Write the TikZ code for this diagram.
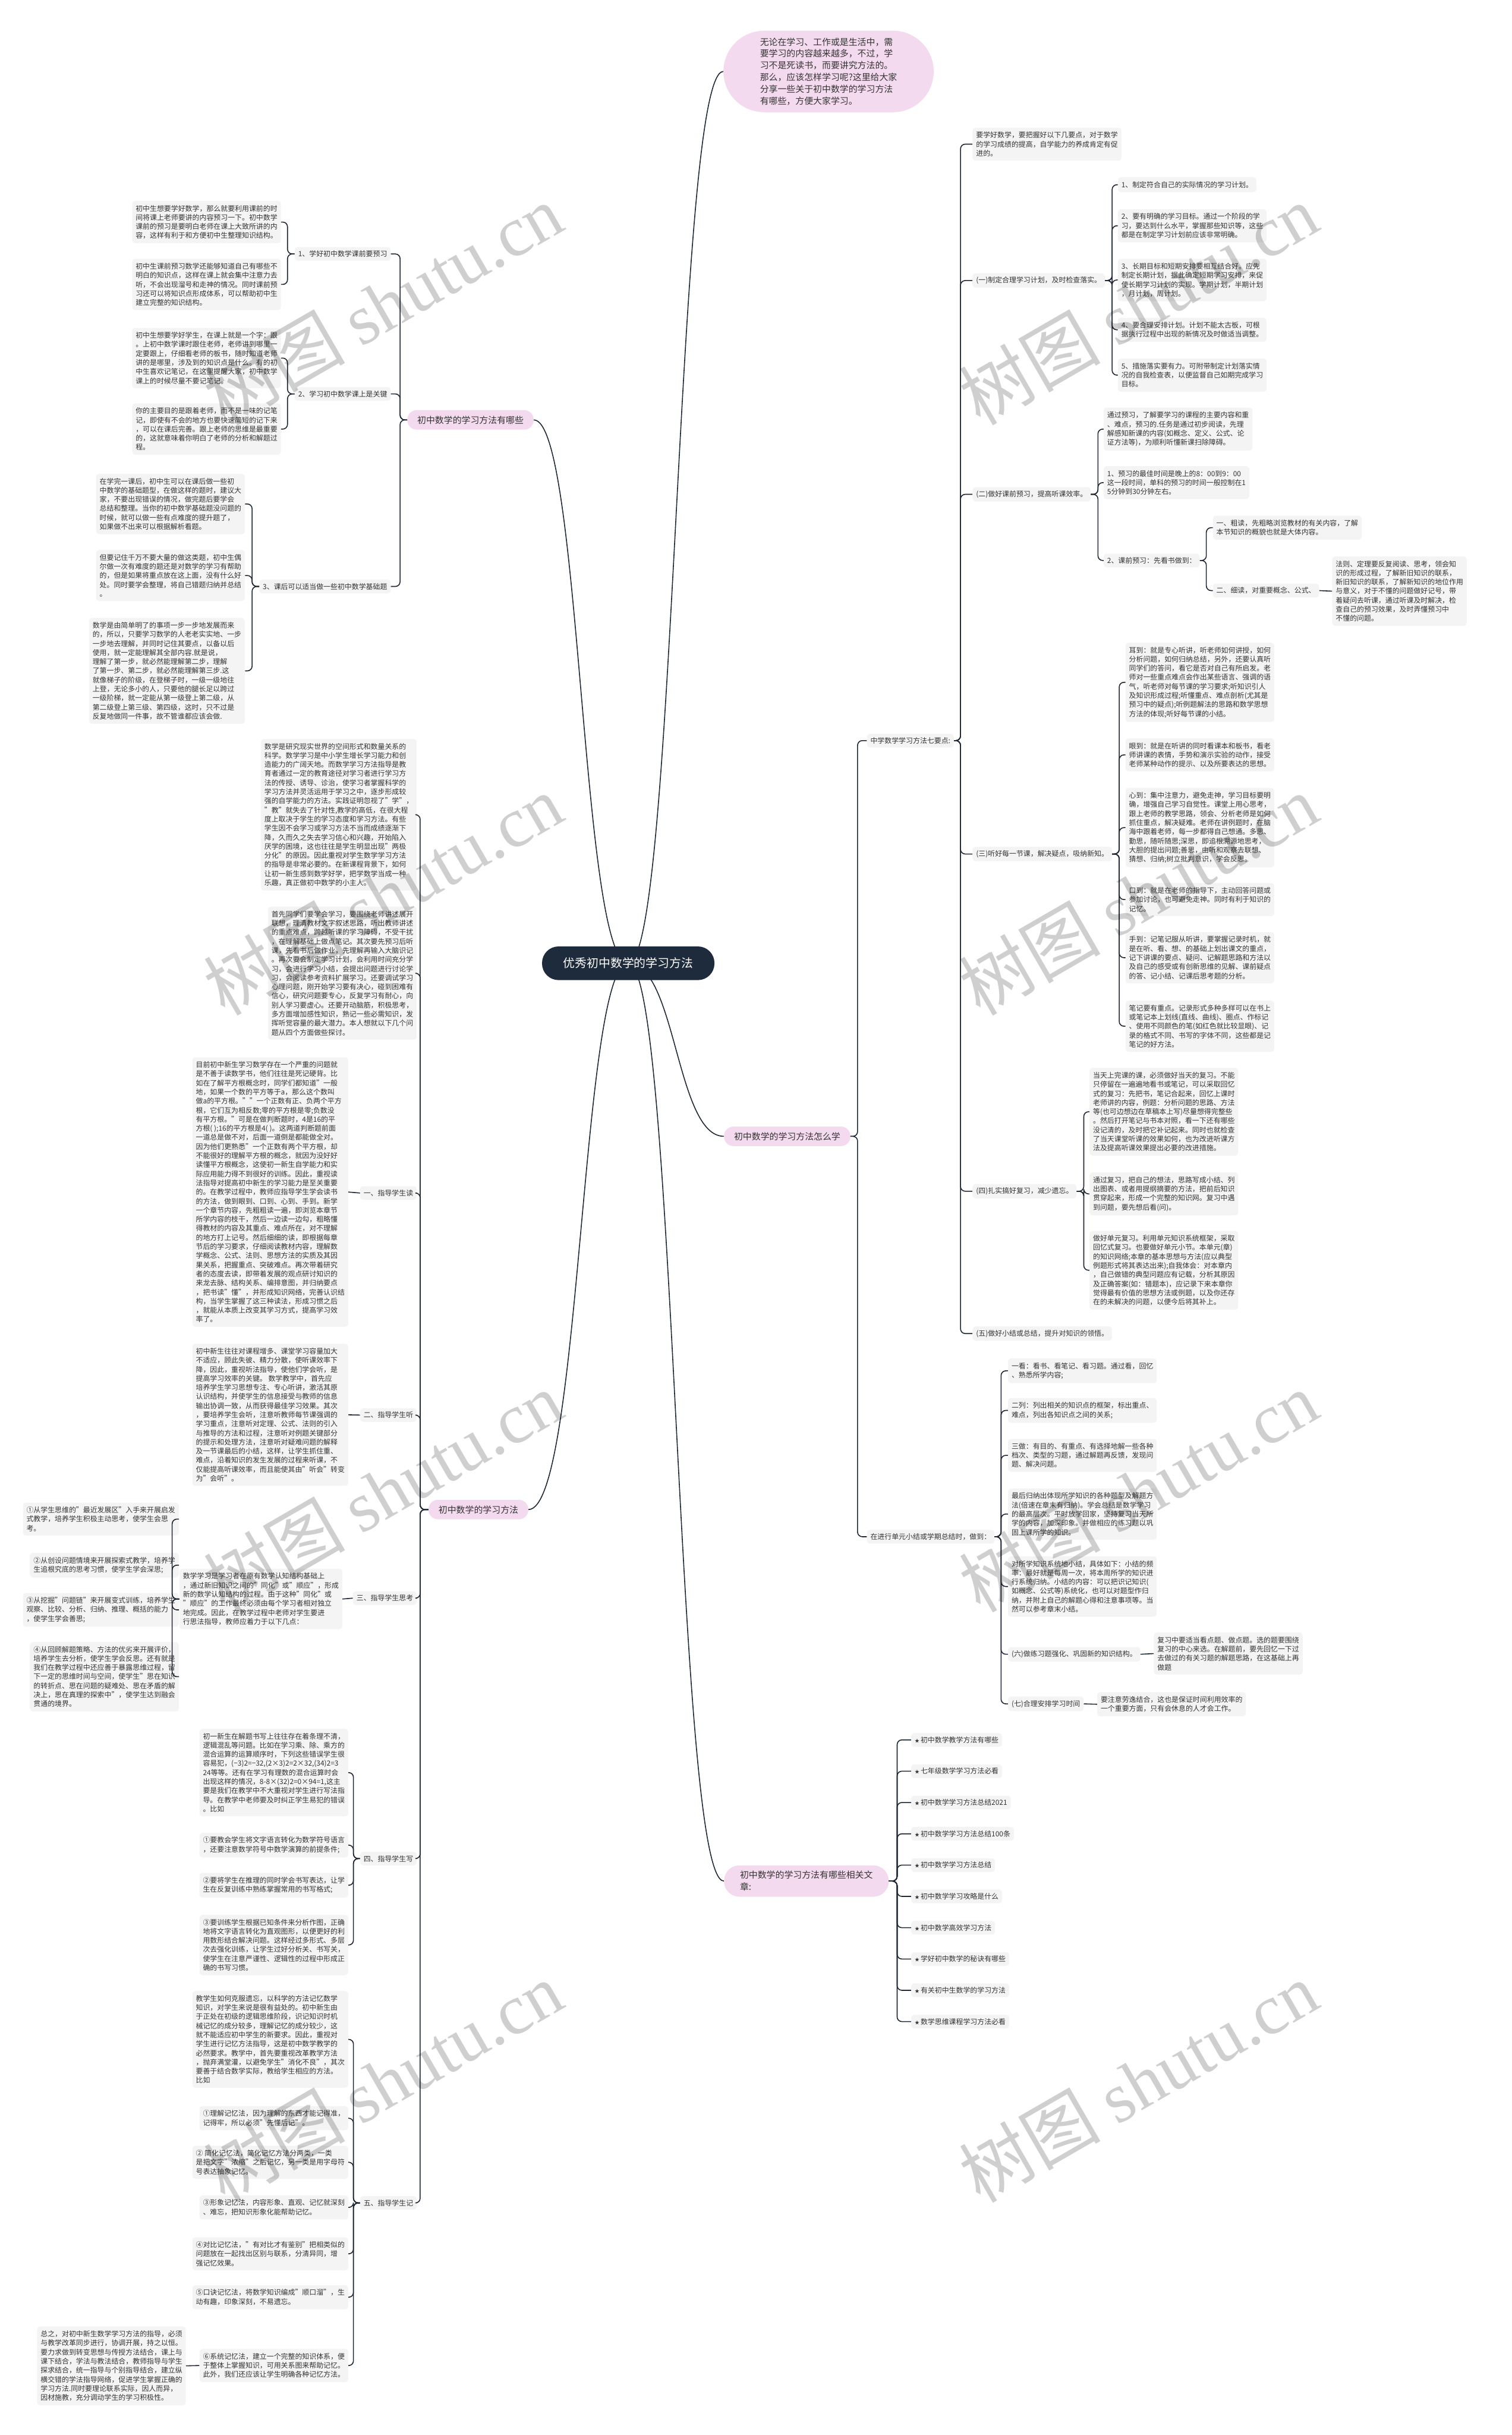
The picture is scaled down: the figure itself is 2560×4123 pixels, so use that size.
\documentclass[tikz,border=0pt]{standalone}
\usepackage{fontspec}
\setmainfont{Noto Sans CJK SC}
\newfontfamily\wmserif{Liberation Serif}
\usepackage{xcolor}
\usepackage{tikz}
\usetikzlibrary{backgrounds}
\definecolor{boxgray}{HTML}{F4F4F4}
\definecolor{pinkfill}{HTML}{F4DAEE}
\definecolor{navy}{HTML}{1E2B3C}
\definecolor{linecol}{HTML}{1E2733}
\definecolor{textcol}{HTML}{333333}
\newcommand{\fs}{\fontsize{12}{15.4}\selectfont}
\newcommand{\artstar}{{\fontsize{8}{8}\selectfont ★}\,}

\begin{document}
\begin{tikzpicture}[x=1pt,y=-1pt,
  txt/.style={fill=boxgray,rounded corners=5pt,align=left,inner xsep=6pt,inner ysep=7pt,font=\fs,text=textcol},
  lbl/.style={txt,inner ysep=6pt},
  pill/.style={fill=pinkfill,rounded corners=16pt,inner xsep=17pt,minimum height=33pt,font=\fontsize{15}{20}\selectfont,text=textcol},
  link/.style={draw=linecol,line width=1.6pt,rounded corners=8pt},
  curve/.style={draw=linecol,line width=1.6pt},
  wm/.style={rotate=30,text=black,text opacity=0.19,font=\fontsize{120}{120}\selectfont}]
\useasboundingbox (0,0) rectangle (2560,4123);

% centre and first level
\node[fill=navy,text=white,rounded corners=28pt,minimum height=57pt,inner xsep=36pt,font=\fontsize{20}{24}\selectfont] (root) at (1064,1631) {优秀初中数学的学习方法};
\node[fill=pinkfill,rounded corners=69pt,minimum height=138pt,inner xsep=62pt,align=left,font=\fontsize{15}{20}\selectfont,text=textcol,anchor=west] (intro) at (1225,121) {无论在学习、工作或是生活中，需\\要学习的内容越来越多，不过，学\\习不是死读书，而要讲究方法的。\\那么，应该怎样学习呢?这里给大家\\分享一些关于初中数学的学习方法\\有哪些，方便大家学习。};
\node[pill,anchor=west] (howto) at (1226,1924) {初中数学的学习方法怎么学};
\node[pill,anchor=west,align=left,rounded corners=26pt,inner xsep=27pt,minimum height=53pt] (related) at (1226,3185) {初中数学的学习方法有哪些相关文\\章:};
\node[pill,anchor=east] (which) at (904,711) {初中数学的学习方法有哪些};
\node[pill,anchor=east] (method) at (895,2556) {初中数学的学习方法};

\begin{scope}[on background layer]
\draw[curve] (root.center) .. controls (1145,1631) and (1145,121) .. (intro.west);
\draw[curve] (root.center) .. controls (1145,1631) and (1145,1924) .. (howto.west);
\draw[curve] (root.center) .. controls (1145,1631) and (1145,3185) .. (related.west);
\draw[curve] (root.center) .. controls (984,1631) and (984,711) .. (which.east);
\draw[curve] (root.center) .. controls (984,1631) and (984,2556) .. (method.east);
\end{scope}

% right: 怎么学
\node[lbl,anchor=west] (seven) at (1468,1254) {中学数学学习方法七要点:};
\node[lbl,anchor=west] (unit) at (1468,2602) {在进行单元小结或学期总结时，做到：};
\foreach \c in {seven,unit} \draw[link] (howto.east) -- ++(12,0) |- (\c.west);

\node[txt,anchor=north west] (s0) at (1647,216) {要学好数学，要把握好以下几要点，对于数学\\的学习成绩的提高，自学能力的养成肯定有促\\进的。};
\node[lbl,anchor=west] (s1) at (1647,475) {(一)制定合理学习计划，及时检查落实。};
\node[lbl,anchor=west] (s2) at (1647,837) {(二)做好课前预习，提高听课效率。};
\node[lbl,anchor=west] (s3) at (1647,1446) {(三)听好每一节课，解决疑点，吸纳新知。};
\node[lbl,anchor=west] (s4) at (1647,2017) {(四)扎实搞好复习，减少遗忘。};
\node[lbl,anchor=west] (s5) at (1647,2258) {(五)做好小结或总结，提升对知识的领悟。};
\foreach \c in {s0,s1,s2,s3,s4,s5} \draw[link] (seven.east) -- ++(11,0) |- (\c.west);

\node[txt,anchor=north west] (s1a) at (1893,300) {1、制定符合自己的实际情况的学习计划。};
\node[txt,anchor=north west] (s1b) at (1893,354) {2、要有明确的学习目标。通过一个阶段的学\\习，要达到什么水平，掌握那些知识等，这些\\都是在制定学习计划前应该非常明确。};
\node[txt,anchor=north west] (s1c) at (1893,438) {3、长期目标和短期安排要相互结合好。应先\\制定长期计划，据此确定短期学习安排，来促\\使长期学习计划的实现。学期计划，半期计划\\，月计划，周计划。};
\node[txt,anchor=north west] (s1d) at (1893,538) {4、要合理安排计划。计划不能太古板，可根\\据执行过程中出现的新情况及时做适当调整。};
\node[txt,anchor=north west] (s1e) at (1893,607) {5、措施落实要有力。可附带制定计划落实情\\况的自我检查表，以便监督自己如期完成学习\\目标。};
\foreach \c in {s1a,s1b,s1c,s1d,s1e} \draw[link] (s1.east) -- ++(12,0) |- (\c.west);

\node[txt,anchor=north west] (s2a) at (1869,690) {通过预习，了解要学习的课程的主要内容和重\\、难点，预习的.任务是通过初步阅读，先理\\解感知新课的内容(如概念、定义、公式、论\\证方法等)，为顺利听懂新课扫除障碍。};
\node[txt,anchor=north west] (s2b) at (1869,789) {1、预习的最佳时间是晚上的8：00到9：00\\这一段时间，单科的预习的时间一般控制在1\\5分钟到30分钟左右。};
\node[lbl,anchor=west] (s2c) at (1869,949) {2、课前预习：先看书做到：};
\foreach \c in {s2a,s2b,s2c} \draw[link] (s2.east) -- ++(12,0) |- (\c.west);
\node[txt,anchor=north west] (s2c1) at (2054,873) {一、粗读，先粗略浏览教材的有关内容，了解\\本节知识的概貌也就是大体内容。};
\node[lbl,anchor=west] (s2c2) at (2054,1000) {二、细读，对重要概念、公式、};
\foreach \c in {s2c1,s2c2} \draw[link] (s2c.east) -- ++(11,0) |- (\c.west);
\node[txt,anchor=north west] (s2d) at (2256,942) {法则、定理要反复阅读、思考，领会知\\识的形成过程，了解新旧知识的联系，\\新旧知识的联系，了解新知识的地位作用\\与意义，对于不懂的问题做好记号，带\\着疑问去听课，通过听课及时解决，检\\查自己的预习效果，及时弄懂预习中\\不懂的问题。};
\draw[link] (s2c2.east) -- (s2d.west);

\node[txt,anchor=north west] (s3a) at (1906,1088) {耳到：就是专心听讲，听老师如何讲授，如何\\分析问题，如何归纳总结，另外，还要认真听\\同学们的答问，看它是否对自己有所启发。老\\师对一些重点难点会作出某些语言、强调的语\\气，听老师对每节课的学习要求;听知识引人\\及知识形成过程;听懂重点、难点剖析(尤其是\\预习中的疑点);听例题解法的思路和数学思想\\方法的体现;听好每节课的小结。};
\node[txt,anchor=north west] (s3b) at (1906,1250) {眼到：就是在听讲的同时看课本和板书，看老\\师讲课的表情，手势和演示实验的动作，接受\\老师某种动作的提示、以及所要表达的思想。};
\node[txt,anchor=north west] (s3c) at (1906,1334) {心到：集中注意力，避免走神，学习目标要明\\确，增强自己学习自觉性。课堂上用心思考，\\跟上老师的教学思路，领会、分析老师是如何\\抓住重点，解决疑难。老师在讲例题时，在脑\\海中跟着老师，每一步都得自己想通。多思、\\勤思，随听随思;深思，即追根溯源地思考，\\大胆的提出问题;善思，由听和观察去联想、\\猜想、归纳;树立批判意识，学会反思。};
\node[txt,anchor=north west] (s3d) at (1906,1495) {口到：就是在老师的指导下，主动回答问题或\\参加讨论，也可避免走神。同时有利于知识的\\记忆。};
\node[txt,anchor=north west] (s3e) at (1906,1578) {手到：记笔记服从听讲，要掌握记录时机，就\\是在听、看、想、的基础上划出课文的重点，\\记下讲课的要点、疑问、记解题思路和方法以\\及自己的感受或有创新思维的见解、课前疑点\\的答、记小结、记课后思考题的分析。};
\node[txt,anchor=north west] (s3f) at (1906,1694) {笔记要有重点。记录形式多种多样可以在书上\\或笔记本上划线(直线、曲线)、圈点、作标记\\、使用不同颜色的笔(如红色就比较显眼)、记\\录的格式不同、书写的字体不同，这些都是记\\笔记的好方法。};
\foreach \c in {s3a,s3b,s3c,s3d,s3e,s3f} \draw[link] (s3.east) -- ++(12,0) |- (\c.west);

\node[txt,anchor=north west] (s4a) at (1845,1808) {当天上完课的课，必须做好当天的复习。不能\\只停留在一遍遍地看书或笔记，可以采取回忆\\式的复习：先把书，笔记合起来，回忆上课时\\老师讲的内容，例题：分析问题的思路、方法\\等(也可边想边在草稿本上写)尽量想得完整些\\。然后打开笔记与书本对照，看一下还有哪些\\没记清的，及时把它补记起来。同时也就检查\\了当天课堂听课的效果如何，也为改进听课方\\法及提高听课效果提出必要的改进措施。};
\node[txt,anchor=north west] (s4b) at (1845,1985) {通过复习，把自己的想法，思路写成小结、列\\出图表、或者用提纲摘要的方法，把前后知识\\贯穿起来，形成一个完整的知识网。复习中遇\\到问题，要先想后看(问)。};
\node[txt,anchor=north west] (s4c) at (1845,2084) {做好单元复习。利用单元知识系统框架，采取\\回忆式复习。也要做好单元小节。本单元(章)\\的知识网络;本章的基本思想与方法(应以典型\\例题形式将其表达出来);自我体会：对本章内\\，自己做错的典型问题应有记载，分析其原因\\及正确答案(如：错题本)，应记录下来本章你\\觉得最有价值的思想方法或例题，以及你还存\\在的未解决的问题，以便今后将其补上。};
\foreach \c in {s4a,s4b,s4c} \draw[link] (s4.east) -- ++(12,0) |- (\c.west);

\node[txt,anchor=north west] (u1) at (1707,2300) {一看：看书、看笔记、看习题。通过看，回忆\\、熟悉所学内容;};
\node[txt,anchor=north west] (u2) at (1707,2367) {二列：列出相关的知识点的框架，标出重点、\\难点，列出各知识点之间的关系;};
\node[txt,anchor=north west] (u3) at (1707,2436) {三做：有目的、有重点、有选择地解一些各种\\档次、类型的习题，通过解题再反馈，发现问\\题、解决问题。};
\node[txt,anchor=north west] (u4) at (1707,2520) {最后归纳出体现所学知识的各种题型及解题方\\法(倍速在章末有归纳)。学会总结是数学学习\\的最高层次。平时放学回家，坚持复习当天所\\学的内容，加深印象。并做相应的练习题以巩\\固上课所学的知识。};
\node[txt,anchor=north west] (u5) at (1707,2635) {对所学知识系统地小结，具体如下：小结的频\\率：最好就是每周一次，将本周所学的知识进\\行系统归纳。小结的内容：可以把识记知识(\\如概念、公式等)系统化，也可以对题型作归\\纳，并附上自己的解题心得和注意事项等。当\\然可以参考章末小结。};
\node[lbl,anchor=west] (u6) at (1707,2801) {(六)做练习题强化、巩固新的知识结构。};
\node[lbl,anchor=west] (u7) at (1707,2885) {(七)合理安排学习时间};
\foreach \c in {u1,u2,u3,u4,u5,u6,u7} \draw[link] (unit.east) -- ++(11,0) |- (\c.west);
\node[txt,anchor=north west] (u6a) at (1954,2764) {复习中要适当看点题、做点题。选的题要围绕\\复习的中心来选。在解题前，要先回忆一下过\\去做过的有关习题的解题思路，在这基础上再\\做题};
\node[txt,anchor=north west] (u7a) at (1858,2865) {要注意劳逸结合，这也是保证时间利用效率的\\一个重要方面，只有会休息的人才会工作。};
\draw[link] (u6.east) -- (u6a.west);
\draw[link] (u7.east) -- (u7a.west);

% right: related articles
\foreach \t [count=\i] in {初中数学教学方法有哪些,七年级数学学习方法必看,初中数学学习方法总结2021,初中数学学习方法总结100条,初中数学学习方法总结,初中数学学习攻略是什么,初中数学高效学习方法,学好初中数学的秘诀有哪些,有关初中生数学的学习方法,数学思维课程学习方法必看}
{
  \node[lbl,anchor=west] (art\i) at (1543,2893+53*\i) {\artstar\t};
  \draw[link] (related.east) -- ++(14,0) |- (art\i.west);
}

% left: 有哪些
\node[lbl,anchor=east] (w1) at (662,430) {1、学好初中数学课前要预习};
\node[lbl,anchor=east] (w2) at (662,667) {2、学习初中数学课上是关键};
\node[lbl,anchor=east] (w3) at (662,993) {3、课后可以适当做一些初中数学基础题};
\foreach \c in {w1,w2,w3} \draw[link] (which.west) -- ++(-12,0) |- (\c.east);

\node[txt,anchor=north east] (w1a) at (476,340) {初中生想要学好数学，那么就要利用课前的时\\间将课上老师要讲的内容预习一下。初中数学\\课前的预习是要明白老师在课上大致所讲的内\\容，这样有利于和方便初中生整理知识结构。};
\node[txt,anchor=north east] (w1b) at (476,438) {初中生课前预习数学还能够知道自己有哪些不\\明白的知识点，这样在课上就会集中注意力去\\听，不会出现溜号和走神的情况。同时课前预\\习还可以将知识点形成体系，可以帮助初中生\\建立完整的知识结构。};
\foreach \c in {w1a,w1b} \draw[link] (w1.west) -- ++(-12,0) |- (\c.east);
\node[txt,anchor=north east] (w2a) at (476,555) {初中生想要学好学生，在课上就是一个字：跟\\。上初中数学课时跟住老师，老师讲到哪里一\\定要跟上，仔细看老师的板书，随时知道老师\\讲的是哪里，涉及到的知识点是什么。有的初\\中生喜欢记笔记，在这里提醒大家，初中数学\\课上的时候尽量不要记笔记。};
\node[txt,anchor=north east] (w2b) at (476,683) {你的主要目的是跟着老师，而不是一味的记笔\\记，即使有不会的地方也要快速简短的记下来\\，可以在课后完善。跟上老师的思维是最重要\\的，这就意味着你明白了老师的分析和解题过\\程。};
\foreach \c in {w2a,w2b} \draw[link] (w2.west) -- ++(-12,0) |- (\c.east);
\node[txt,anchor=north east] (w3a) at (415,802) {在学完一课后，初中生可以在课后做一些初\\中数学的基础题型，在做这样的题时，建议大\\家，不要出现错误的情况，做完题后要学会\\总结和整理。当你的初中数学基础题没问题的\\时候，就可以做一些有点难度的提升题了，\\如果做不出来可以根据解析看题。};
\node[txt,anchor=north east] (w3b) at (415,931) {但要记住千万不要大量的做这类题，初中生偶\\尔做一次有难度的题还是对数学的学习有帮助\\的，但是如果将重点放在这上面，没有什么好\\处。同时要学会整理，将自己错题归纳并总结\\。};
\node[txt,anchor=north east] (w3c) at (415,1046) {数学是由简单明了的事项一步一步地发展而来\\的，所以，只要学习数学的人老老实实地、一步\\一步地去理解，并同时记住其要点，以备以后\\使用，就一定能理解其全部内容.就是说，\\理解了第一步，就必然能理解第二步，理解\\了第一步、第二步，就必然能理解第三步.这\\就像梯子的阶级，在登梯子时，一级一级地往\\上登，无论多小的人，只要他的腿长足以跨过\\一级阶梯，就一定能从第一级登上第二级，从\\第二级登上第三级、第四级，这时，只不过是\\反复地做同一件事，故不管谁都应该会做.};
\foreach \c in {w3a,w3b,w3c} \draw[link] (w3.west) -- ++(-12,0) |- (\c.east);

% left: 学习方法
\node[txt,anchor=north east] (m1) at (706,1251) {数学是研究现实世界的空间形式和数量关系的\\科学。数学学习是中小学生增长学习能力和创\\造能力的广阔天地。而数学学习方法指导是教\\育者通过一定的教育途径对学习者进行学习方\\法的传授、诱导、诊治，使学习者掌握科学的\\学习方法并灵活运用于学习之中，逐步形成较\\强的自学能力的方法。实践证明忽视了"学"，\\"教"就失去了针对性,教学的高低，在很大程\\度上取决于学生的学习态度和学习方法。有些\\学生因不会学习或学习方法不当而成绩逐渐下\\降，久而久之失去学习信心和兴趣，开始陷入\\厌学的困境，这也往往是学生明显出现"两极\\分化"的原因。因此重视对学生数学学习方法\\的指导是非常必要的。在新课程背景下，如何\\让初一新生感到数学好学，把学数学当成一种\\乐趣，真正做初中数学的小主人。};
\node[txt,anchor=north east] (m2) at (706,1535) {首先同学们要学会学习，要围绕老师讲述展开\\联想，理清教材文字叙述思路，听出教师讲述\\的重点难点，跨越听课的学习障碍，不受干扰\\，在理解基础上做点笔记。其次要先预习后听\\课，先看书后做作业，先理解再输入大脑识记\\。再次要会制定学习计划，会利用时间充分学\\习，会进行学习小结，会提出问题进行讨论学\\习，会阅读参考资料扩展学习。还要调试学习\\心理问题，刚开始学习要有决心，碰到困难有\\信心，研究问题要专心，反复学习有耐心，向\\别人学习要虚心。还要开动脑筋，积极思考，\\多方面增加感性知识，熟记一些必需知识，发\\挥听觉容量的最大潜力。本人想就以下几个问\\题从四个方面做些探讨。};
\node[lbl,anchor=east] (g1) at (706,2020) {一、指导学生读};
\node[lbl,anchor=east] (g2) at (706,2396) {二、指导学生听};
\node[lbl,anchor=east] (g3) at (706,2706) {三、指导学生思考};
\node[lbl,anchor=east] (g4) at (706,3147) {四、指导学生写};
\node[lbl,anchor=east] (g5) at (706,3730) {五、指导学生记};
\foreach \c in {m1,m2,g1,g2,g3,g4,g5} \draw[link] (method.west) -- ++(-14,0) |- (\c.east);

\node[txt,anchor=north east] (g1a) at (590,1790) {目前初中新生学习数学存在一个严重的问题就\\是不善于读数学书，他们往往是死记硬背。比\\如在了解平方根概念时，同学们都知道"一般\\地，如果一个数的平方等于a，那么这个数叫\\做a的平方根。""一个正数有正、负两个平方\\根，它们互为相反数;零的平方根是零;负数没\\有平方根。"可是在做判断题时，4是16的平\\方根( );16的平方根是4( )。这两道判断题前面\\一道总是做不对，后面一道倒是都能做全对。\\因为他们更熟悉"一个正数有两个平方根，却\\不能很好的理解平方根的概念，就因为没好好\\读懂平方根概念，这使初一新生自学能力和实\\际应用能力得不到很好的训练。因此，重视读\\法指导对提高初中新生的学习能力是至关重要\\的。在教学过程中，教师应指导学生学会读书\\的方法，做到眼到、口到、心到、手到。新学\\一个章节内容，先粗粗读一遍，即浏览本章节\\所学内容的枝干，然后一边读一边勾，粗略懂\\得教材的内容及其重点、难点所在，对不理解\\的地方打上记号。然后细细的读，即根据每章\\节后的学习要求，仔细阅读教材内容，理解数\\学概念、公式、法则、思想方法的实质及其因\\果关系，把握重点、突破难点。再次带着研究\\者的态度去读，即带着发展的观点研讨知识的\\来龙去脉、结构关系、编排意图，并归纳要点\\，把书读"懂"，并形成知识网络，完善认识结\\构，当学生掌握了这三种读法，形成习惯之后\\，就能从本质上改变其学习方式，提高学习效\\率了。};
\draw[link] (g1.west) -- (g1a.east);
\node[txt,anchor=north east] (g2a) at (590,2275) {初中新生往往对课程增多、课堂学习容量加大\\不适应，顾此失彼、精力分散，使听课效率下\\降，因此，重视听法指导，使他们学会听，是\\提高学习效率的关键。 数学教学中，首先应\\培养学生学习思想专注、专心听讲，激活其原\\认识结构，并使学生的信息接受与教师的信息\\输出协调一致，从而获得最佳学习效果。其次\\，要培养学生会听，注意听教师每节课强调的\\学习重点，注意听对定理、公式、法则的引入\\与推导的方法和过程，注意听对例题关键部分\\的提示和处理方法，注意听对疑难问题的解释\\及一节课最后的小结，这样，让学生抓住重、\\难点，沿着知识的发生发展的过程来听课，不\\仅能提高听课效率，而且能使其由"听会"转变\\为"会听"。};
\draw[link] (g2.west) -- (g2a.east);
\node[txt,anchor=north east] (g3a) at (580,2656) {数学学习是学习者在原有数学认知结构基础上\\，通过新旧知识之间的"同化"或"顺应"，形成\\新的数学认知结构的过程。由于这种"同化"或\\"顺应"的工作最终必须由每个学习者相对独立\\地完成。因此，在教学过程中老师对学生要进\\行思法指导，教师应着力于以下几点：};
\draw[link] (g3.west) -- (g3a.east);
\node[txt,anchor=north east] (t1) at (303,2544) {①从学生思维的"最近发展区"入手来开展启发\\式教学，培养学生积极主动思考，使学生会思\\考。};
\node[txt,anchor=north east] (t2) at (303,2629) {②从创设问题情境来开展探索式教学，培养学\\生追根究底的思考习惯，使学生学会深思;};
\node[txt,anchor=north east] (t3) at (303,2697) {③从挖掘"问题链"来开展变式训练，培养学生\\观察、比较、分析、归纳、推理、概括的能力\\，使学生学会善思;};
\node[txt,anchor=north east] (t4) at (303,2780) {④从回顾解题策略、方法的优劣来开展评价，\\培养学生去分析，使学生学会反思。还有就是\\我们在教学过程中还应善于暴露思维过程，留\\下一定的思维时间与空间，使学生"思在知识\\的转折点、思在问题的疑难处、思在矛盾的解\\决上，思在真理的探索中"，使学生达到融会\\贯通的境界。};
\foreach \c in {t1,t2,t3,t4} \draw[link] (g3a.west) -- ++(-12,0) |- (\c.east);

\node[txt,anchor=north east] (g4a) at (590,2927) {初一新生在解题书写上往往存在着条理不清，\\逻辑混乱等问题。比如在学习乘、除、乘方的\\混合运算的运算顺序时，下列这些错误学生很\\容易犯，(−3)2=−32,(2×3)2=2×32,(34)2=3\\24等等。还有在学习有理数的混合运算时会\\出现这样的情况，8-8×(32)2=0×94=1,这主\\要是我们在教学中不大重视对学生进行写法指\\导。在教学中老师要及时纠正学生易犯的错误\\。比如};
\node[txt,anchor=north east] (g4b) at (590,3103) {①要教会学生将文字语言转化为数学符号语言\\，还要注意数学符号中数学演算的前提条件;};
\node[txt,anchor=north east] (g4c) at (590,3171) {②要将学生在推理的同时学会书写表达，让学\\生在反复训练中熟练掌握常用的书写格式;};
\node[txt,anchor=north east] (g4d) at (590,3242) {③要训练学生根据已知条件来分析作图，正确\\地将文字语言转化为直观图形，以便更好的利\\用数形结合解决问题。这样经过多形式、多层\\次去强化训练，让学生过好分析关、书写关，\\使学生在注意严谨性、逻辑性的过程中形成正\\确的书写习惯。};
\foreach \c in {g4a,g4b,g4c,g4d} \draw[link] (g4.west) -- ++(-11,0) |- (\c.east);

\node[txt,anchor=north east] (g5a) at (590,3371) {教学生如何克服遗忘，以科学的方法记忆数学\\知识，对学生来说是很有益处的。初中新生由\\于正处在初级的逻辑思维阶段，识记知识时机\\械记忆的成分较多，理解记忆的成分较少，这\\就不能适应初中学生的新要求。因此，重视对\\学生进行记忆方法指导，这是初中数学教学的\\必然要求。教学中，首先要重视改革教学方法\\，抛弃满堂灌，以避免学生"消化不良"，其次\\要善于结合数学实际，教给学生相应的方法。\\比如};
\node[txt,anchor=north east] (g5b) at (590,3566) {①理解记忆法，因为理解的东西才能记得准，\\记得牢，所以必须"先懂后记"。};
\node[txt,anchor=north east] (g5c) at (590,3633) {② 简化记忆法，简化记忆方法分两类，一类\\是把文字"浓缩"之后记忆，另一类是用字母符\\号表达抽象记忆。};
\node[txt,anchor=north east] (g5d) at (590,3717) {③形象记忆法，内容形象、直观、记忆就深刻\\、难忘，把知识形象化能帮助记忆。};
\node[txt,anchor=north east] (g5e) at (590,3788) {④对比记忆法，"有对比才有鉴别"把相类似的\\问题放在一起找出区别与联系，分清异同，增\\强记忆效果。};
\node[txt,anchor=north east] (g5f) at (590,3869) {⑤口诀记忆法，将数学知识编成"顺口溜"，生\\动有趣，印象深刻，不易遗忘。};
\node[txt,anchor=north east] (g5g) at (590,3977) {⑥系统记忆法，建立一个完整的知识体系，便\\于整体上掌握知识，可用关系图来帮助记忆。\\此外，我们还应该让学生明确各种记忆方法。};
\foreach \c in {g5a,g5b,g5c,g5d,g5e,g5f,g5g} \draw[link] (g5.west) -- ++(-11,0) |- (\c.east);
\node[txt,anchor=north east] (g5h) at (315,3939) {总之，对初中新生数学学习方法的指导，必须\\与教学改革同步进行，协调开展，持之以恒。\\要力求做到转变思想与传授方法结合，课上与\\课下结合，学法与教法结合，教师指导与学生\\探求结合，统一指导与个别指导结合，建立纵\\横交错的学法指导网络，促进学生掌握正确的\\学习方法.同时要理论联系实际，因人而异，\\因材施教，充分调动学生的学习积极性。};
\draw[link] (g5g.west) -- (g5h.east);

% watermarks
\foreach \wx in {648,1928}
  \foreach \wy in {515,1515,2525,3525}
    \node[wm] (mark) at (\wx,\wy) {树图 {\wmserif shutu.cn}};
\end{tikzpicture}
\end{document}
